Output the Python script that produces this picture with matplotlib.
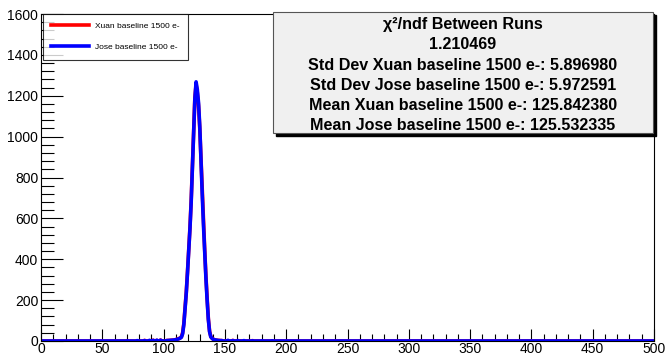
import numpy as np
import matplotlib.pyplot as plt
from matplotlib.ticker import MultipleLocator

plt.rcParams["font.family"] = ["Liberation Sans", "DejaVu Sans"]

# unit-width bins from 0 to 500, counts only listed where non-zero
n_bins = 500
peak_start = 102
xuan_peak = [2, 3, 2, 4, 3, 5, 4, 6, 8, 10, 12, 15, 20, 40, 85, 160, 240, 340, 450,
             555, 690, 860, 1040, 1190, 1255, 1215, 1150, 1040, 890, 730, 580, 450,
             320, 210, 110, 48, 22, 14, 9, 6, 5, 4, 3, 3, 2, 2]
jose_peak = [2, 2, 3, 3, 4, 4, 5, 6, 7, 9, 11, 14, 18, 35, 80, 155, 235, 335, 445,
             550, 680, 850, 1030, 1185, 1268, 1230, 1165, 1050, 885, 720, 570, 440,
             310, 200, 105, 45, 20, 13, 8, 6, 5, 4, 3, 2, 2, 2]
tail_bins = [70, 78, 84, 88, 91, 94, 97, 152, 156, 160, 165, 172, 180, 188]
xuan_tail = [2, 1, 3, 2, 4, 3, 5, 2, 3, 2, 1, 2, 1, 1]
jose_tail = [1, 2, 2, 3, 3, 4, 4, 3, 2, 2, 2, 1, 1, 1]

stats_lines = [
    "χ²/ndf Between Runs",
    "1.210469",
    "Std Dev Xuan baseline 1500 e-: 5.896980",
    "Std Dev Jose baseline 1500 e-: 5.972591",
    "Mean Xuan baseline 1500 e-: 125.842380",
    "Mean Jose baseline 1500 e-: 125.532335",
]


def fill_counts(peak, tail):
    counts = np.zeros(n_bins)
    counts[peak_start:peak_start + len(peak)] = peak
    counts[tail_bins] = tail
    return counts


centers = np.arange(n_bins) + 0.5
xuan = fill_counts(xuan_peak, xuan_tail)
jose = fill_counts(jose_peak, jose_tail)

fig = plt.figure(figsize=(6.66, 3.56), dpi=100)
ax = fig.add_axes([41 / 666, 15 / 356, 613 / 666, 327 / 356])

ax.plot(centers, xuan, color="#ff0000", lw=2.6, label="Xuan baseline 1500 e-")
ax.plot(centers, jose, color="#0000ff", lw=2.6, label="Jose baseline 1500 e-")

ax.set_xlim(0, 500)
ax.set_ylim(0, 1600)
ax.xaxis.set_major_locator(MultipleLocator(50))
ax.xaxis.set_minor_locator(MultipleLocator(10))
ax.yaxis.set_major_locator(MultipleLocator(200))
ax.yaxis.set_minor_locator(MultipleLocator(40))
ax.tick_params(which="both", direction="in", top=False, right=False,
               labelsize=10, width=0.8, pad=2)
ax.tick_params(axis="x", pad=0.5)
ax.tick_params(axis="y", which="major", length=16)
ax.tick_params(axis="y", which="minor", length=9)
ax.tick_params(axis="x", which="major", length=9)
ax.tick_params(axis="x", which="minor", length=5)
for s in ax.spines.values():
    s.set_linewidth(0.8)

leg = ax.legend(loc="upper left", bbox_to_anchor=(0.003, 1.0), fontsize=6,
                frameon=True, fancybox=False, edgecolor="black",
                handlelength=4.5, borderpad=1.0, labelspacing=1.6,
                borderaxespad=0)
leg.get_frame().set_linewidth(0.8)

# stats box with a drop shadow
box_x0, box_y0, box_w, box_h = 273 / 666, (356 - 133) / 356, 380 / 666, 121 / 356
fig.patches.append(plt.Rectangle((box_x0 + 3 / 666, box_y0 - 3 / 356), box_w, box_h,
                                 transform=fig.transFigure, color="black", zorder=3))
fig.patches.append(plt.Rectangle((box_x0, box_y0), box_w, box_h,
                                 transform=fig.transFigure, facecolor="#f0f0f0",
                                 edgecolor="#555555", lw=0.8, zorder=4))
line_y = [24, 44.5, 65, 85.5, 106, 126]
for text, y in zip(stats_lines, line_y):
    fig.text(box_x0 + box_w / 2, 1 - y / 356, text, ha="center", va="center",
             fontsize=11.6, fontweight="bold", zorder=5)

fig.savefig("out.png", dpi=100)
